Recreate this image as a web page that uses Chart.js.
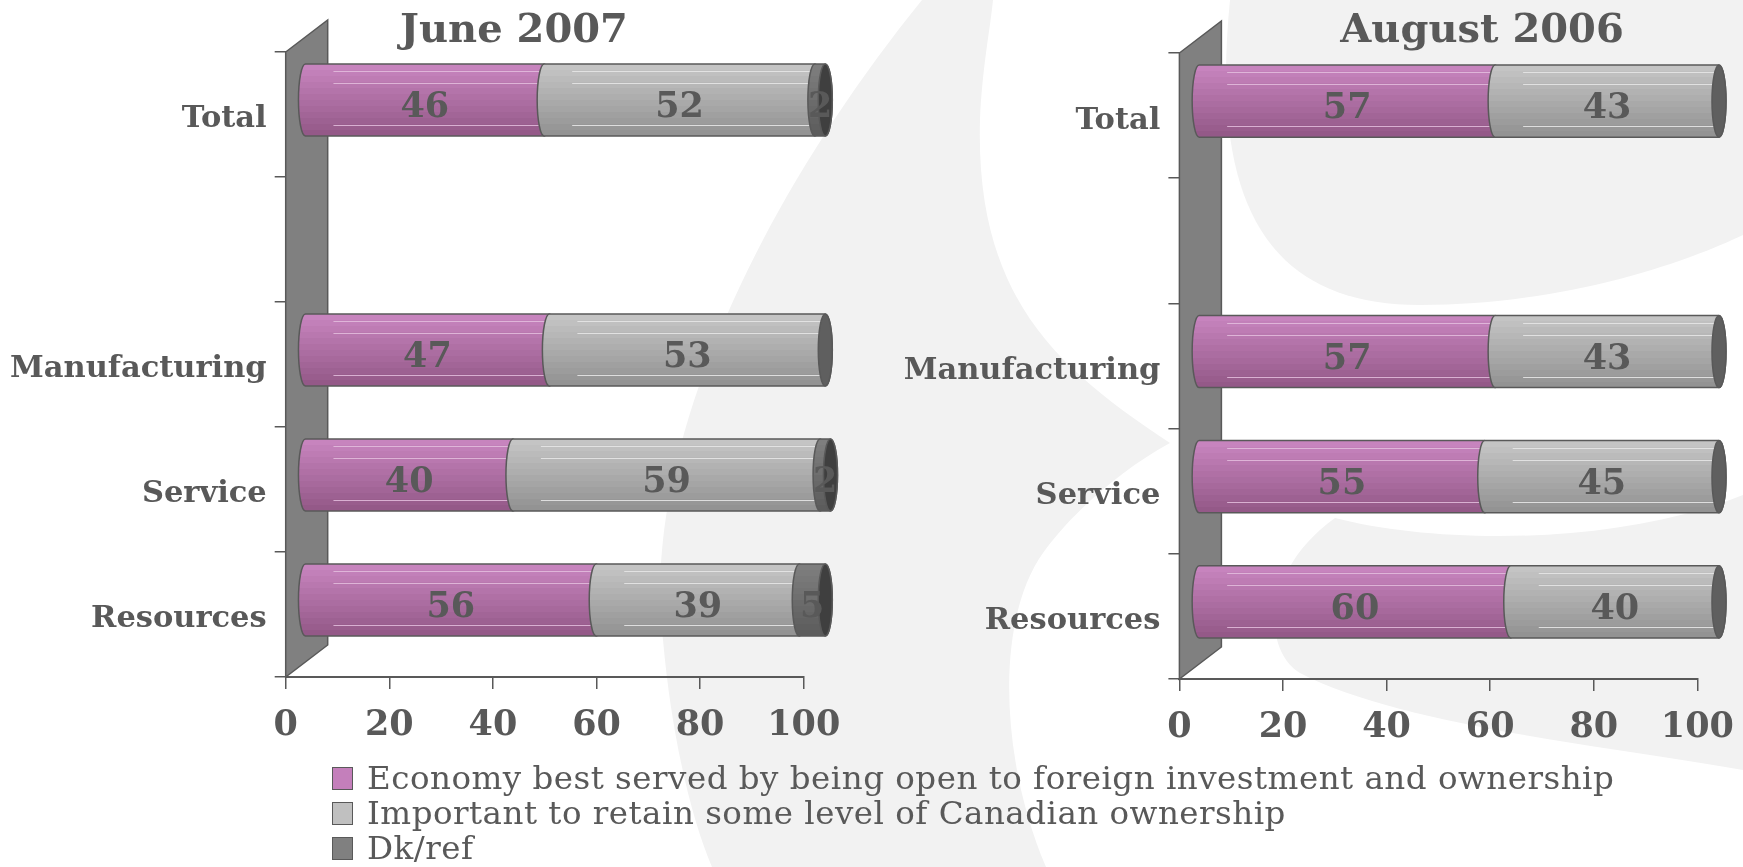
<!DOCTYPE html>
<html>
<head>
<meta charset="utf-8">
<script src="https://cdn.jsdelivr.net/npm/chart.js@4.4.1/dist/chart.umd.min.js"></script>
<style>
  html, body { margin: 0; padding: 0; width: 1743px; height: 867px; overflow: hidden; background: #ffffff; }
  #bg { position: absolute; left: 0; top: 0; }
  .panel { position: absolute; top: 0; }
  .title { position: absolute; top: 8px; font-family: "DejaVu Serif", serif; font-weight: bold; font-size: 40px;
           line-height: 40px; color: #595959; white-space: nowrap; transform: translateX(-50%); }
  #legend { position: absolute; left: 332px; top: 0; font-family: "DejaVu Serif", serif; color: #595959; }
  .lrow { position: absolute; left: 0; height: 35px; white-space: nowrap; }
  .lbox { position: absolute; left: 0; top: 5px; width: 21px; height: 23px; box-sizing: border-box; border: 1.5px solid #595959; }
  .ltxt { position: absolute; left: 35px; top: -1px; font-size: 32.5px; line-height: 35px; letter-spacing: 0.5px; }
</style>
</head>
<body>
<svg id="bg" width="1743" height="867" viewBox="0 0 1743 867">
  <path fill="#f2f2f2" d="M 922 0 C 760 200 640 450 663 640 C 672 740 692 820 712 867 L 1046 867 C 1000 760 995 620 1043 553 C 1070 515 1120 470 1170 443 C 1060 370 975 300 980 120 C 982 70 990 30 993 0 Z"/>
  <path fill="#f2f2f2" d="M 1230 0 C 1210 200 1265 305 1420 305 C 1560 305 1680 265 1743 235 L 1743 0 Z"/>
  <path fill="#f2f2f2" d="M 1335 518 C 1440 545 1620 545 1743 495 L 1743 770 C 1600 745 1400 725 1300 673 C 1262 650 1262 570 1335 518 Z"/>
</svg>

<div class="panel" style="left:0px"><canvas id="june" width="870" height="767"></canvas></div>
<div class="panel" style="left:893px"><canvas id="august" width="900" height="767"></canvas></div>
<div class="title" style="left:514px">June 2007</div>
<div class="title" style="left:1482px">August 2006</div>
<div id="legend"></div>

<script>
// Survey categories (the empty one is the spacer row under "Total")
const categories = ['Total', '', 'Manufacturing', 'Service', 'Resources'];

// June 2007 (%)
const openJune2007   = [46, null, 47, 40, 56];
const retainJune2007 = [52, null, 53, 59, 39];
const dkJune2007     = [2,  null, 0,  2,  5];

// August 2006 (%)
const openAug2006    = [57, null, 57, 55, 60];
const retainAug2006  = [43, null, 43, 45, 40];
const dkAug2006      = [0,  null, 0,  0,  0];

const seriesNames = [
  'Economy best served by being open to foreign investment and ownership',
  'Important to retain some level of Canadian ownership',
  'Dk/ref'
];
const xTickValues = [0, 20, 40, 60, 80, 100];

// Cylinder shading per series
const shades = [
  { swatch: '#c47fbb', top: '#c784be', bottom: '#945988', line: 'rgba(228,190,222,0.85)', cap: '#7d4a72' },
  { swatch: '#c0c0c0', top: '#c4c4c4', bottom: '#939393', line: 'rgba(230,230,230,0.9)',  cap: '#5f5f5f' },
  { swatch: '#808080', top: '#7e7e7e', bottom: '#5c5c5c', line: 'rgba(160,160,160,0.8)',  cap: '#3f3f3f' }
];
const INK = '#595959';
const WALL_DX = 42, WALL_DY = -32;     // depth of the 3-D back wall
const BAR_DX = 19, BAR_DY = -14.5;     // bars sit in front of the wall
const BAR_STRETCH = 1.005;
const CAP_RX = 7;

function hexRgb(h) { const n = parseInt(h.slice(1), 16); return [(n >> 16) & 255, (n >> 8) & 255, n & 255]; }
function bandGradient(ctx, top, bot, c0, c1) {
  const g = ctx.createLinearGradient(0, top, 0, bot);
  const a = hexRgb(c0), b = hexRgb(c1), n = 12;
  for (let k = 0; k < n; k++) {
    const t = k / (n - 1);
    const col = 'rgb(' + a.map((v, i) => Math.round(v + (b[i] - v) * t)).join(',') + ')';
    g.addColorStop(k / n, col);
    g.addColorStop((k + 1) / n - 0.0001, col);
  }
  return g;
}
function bodyPath(ctx, x0, x1, yc, h) {
  const top = yc - h / 2, bot = yc + h / 2;
  ctx.beginPath();
  ctx.moveTo(x1, top);
  ctx.lineTo(x0, top);
  ctx.ellipse(x0, yc, CAP_RX, h / 2, 0, -Math.PI / 2, Math.PI / 2, true);
  ctx.lineTo(x1, bot);
  ctx.ellipse(x1, yc, CAP_RX, h / 2, 0, Math.PI / 2, -Math.PI / 2, true);
  ctx.closePath();
}

const wallPlugin = {
  id: 'wall3d',
  beforeDatasetsDraw(chart) {
    const { ctx, chartArea: a } = chart;
    ctx.save();
    ctx.beginPath();
    ctx.moveTo(a.left, a.top);
    ctx.lineTo(a.left + WALL_DX, a.top + WALL_DY);
    ctx.lineTo(a.left + WALL_DX, a.bottom + WALL_DY);
    ctx.lineTo(a.left, a.bottom);
    ctx.closePath();
    ctx.fillStyle = '#808080';
    ctx.fill();
    ctx.lineWidth = 1.5;
    ctx.strokeStyle = INK;
    ctx.stroke();
    ctx.restore();
  }
};

const cylinderPlugin = {
  id: 'cylinders',
  afterDatasetsDraw(chart) {
    const ctx = chart.ctx;
    const origin = chart.scales.x.getPixelForValue(0);
    const px = p => origin + BAR_DX + (p - origin) * BAR_STRETCH;
    ctx.save();
    chart.data.labels.forEach((_, i) => {
      const segs = [];
      chart.data.datasets.forEach((ds, d) => {
        const v = ds.data[i];
        if (!v) return;
        const el = chart.getDatasetMeta(d).data[i];
        segs.push({ d, v, x0: px(el.base), x1: px(el.x), yc: el.y + BAR_DY, h: el.height });
      });
      if (!segs.length) return;
      segs.forEach(s => {
        const sh = shades[s.d];
        const top = s.yc - s.h / 2;
        bodyPath(ctx, s.x0, s.x1, s.yc, s.h);
        ctx.fillStyle = bandGradient(ctx, top, top + s.h, sh.top, sh.bottom);
        ctx.fill();
        ctx.save();
        ctx.clip();
        ctx.strokeStyle = sh.line;
        ctx.lineWidth = 1;
        [0.1, 0.27, 0.85].forEach(f => {
          const y = Math.round(top + s.h * f) + 0.5;
          ctx.beginPath();
          ctx.moveTo(s.x0 + 28, y);
          ctx.lineTo(s.x1, y);
          ctx.stroke();
        });
        ctx.restore();
        bodyPath(ctx, s.x0, s.x1, s.yc, s.h);
        ctx.lineWidth = 1.5;
        ctx.strokeStyle = INK;
        ctx.stroke();
      });
      const last = segs[segs.length - 1];
      ctx.beginPath();
      ctx.ellipse(last.x1, last.yc, CAP_RX, last.h / 2, 0, 0, Math.PI * 2);
      ctx.fillStyle = shades[last.d].cap;
      ctx.fill();
      ctx.lineWidth = 1.5;
      ctx.strokeStyle = INK;
      ctx.stroke();

      ctx.fillStyle = INK;
      ctx.font = 'bold 35px "DejaVu Serif"';
      ctx.textAlign = 'center';
      ctx.textBaseline = 'middle';
      segs.forEach(s => ctx.fillText(String(s.v), (s.x0 + s.x1) / 2, s.yc + 8));
    });
    ctx.restore();
  }
};

function makeChart(id, open, retain, dk, axisWidth, rightPad, topPad, xAxisHeight) {
  const fontBold = size => ({ family: 'DejaVu Serif', weight: 'bold', size });
  return new Chart(document.getElementById(id), {
    type: 'bar',
    data: {
      labels: categories,
      datasets: [
        { label: seriesNames[0], data: open,   backgroundColor: 'rgba(0,0,0,0)', borderWidth: 0 },
        { label: seriesNames[1], data: retain, backgroundColor: 'rgba(0,0,0,0)', borderWidth: 0 },
        { label: seriesNames[2], data: dk,     backgroundColor: 'rgba(0,0,0,0)', borderWidth: 0 }
      ]
    },
    options: {
      indexAxis: 'y',
      responsive: false,
      animation: false,
      devicePixelRatio: 1,
      layout: { padding: { left: 0, right: rightPad, top: topPad, bottom: 0 } },
      datasets: { bar: { barPercentage: 0.577, categoryPercentage: 1 } },
      plugins: { legend: { display: false }, tooltip: { enabled: false }, title: { display: false } },
      scales: {
        x: {
          stacked: true, min: 0, max: 100,
          afterBuildTicks: s => { s.ticks = xTickValues.map(v => ({ value: v })); },
          afterFit: s => { s.height = xAxisHeight; },
          grid: { drawOnChartArea: false, tickLength: 12, color: INK, lineWidth: 1.5 },
          border: { color: INK, width: 2 },
          ticks: { color: INK, font: fontBold(35), padding: 16, maxRotation: 0 }
        },
        y: {
          stacked: true,
          afterFit: s => { s.width = axisWidth; },
          grid: { offset: true, drawOnChartArea: false, tickLength: 11, color: INK, lineWidth: 1.5 },
          border: { color: INK, width: 1.5 },
          ticks: { color: INK, font: fontBold(30.5), padding: 8, labelOffset: 5 }
        }
      }
    },
    plugins: [wallPlugin, cylinderPlugin]
  });
}

makeChart('june',   openJune2007, retainJune2007, dkJune2007, 285.7, 66.3, 52, 90);
makeChart('august', openAug2006,  retainAug2006,  dkAug2006,  286.4, 95.6, 53, 88);

// Shared legend below both panels
const legend = document.getElementById('legend');
seriesNames.forEach((name, k) => {
  const row = document.createElement('div');
  row.className = 'lrow';
  row.style.top = (761.6 + k * 35.3) + 'px';
  const box = document.createElement('div');
  box.className = 'lbox';
  box.style.background = shades[k].swatch;
  const txt = document.createElement('span');
  txt.className = 'ltxt';
  txt.textContent = name;
  row.appendChild(box);
  row.appendChild(txt);
  legend.appendChild(row);
});
</script>
</body>
</html>
